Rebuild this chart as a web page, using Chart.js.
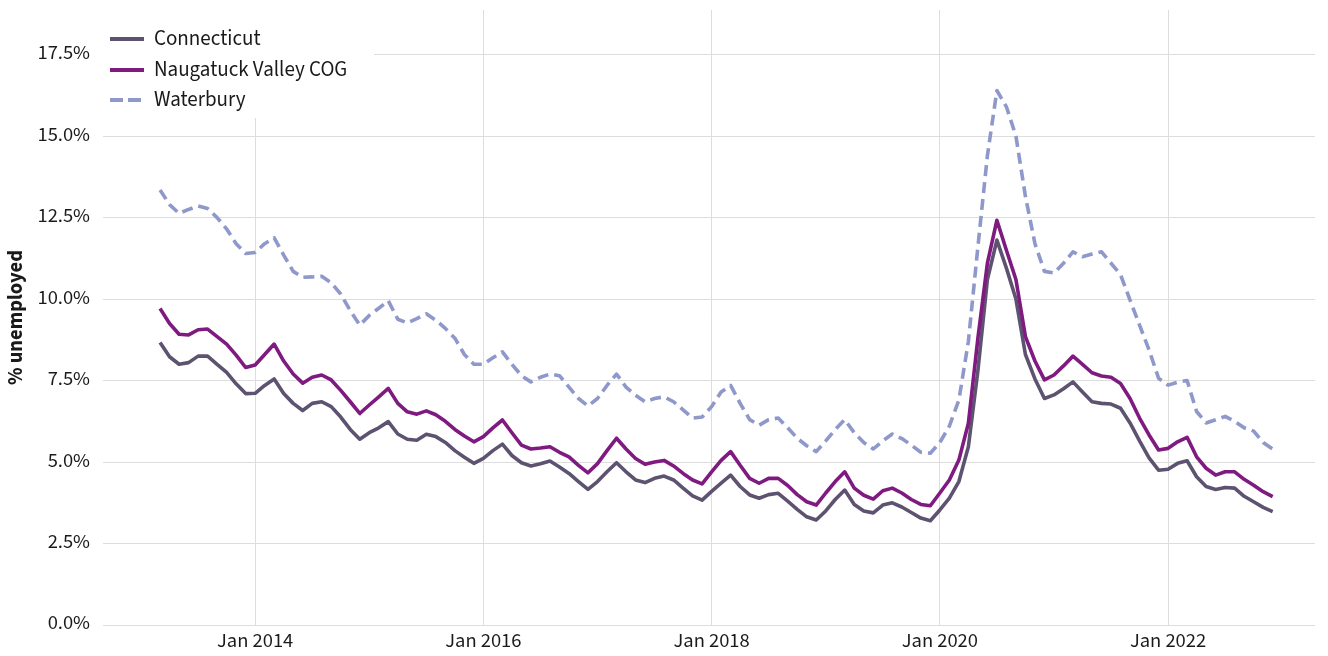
<!DOCTYPE html>
<html>
<head>
<meta charset="utf-8">
<script src="https://cdn.jsdelivr.net/npm/chart.js@4.4.1/dist/chart.umd.min.js"></script>
<style>
  html, body { margin: 0; padding: 0; background: #ffffff; }
  #wrap { width: 1328px; height: 656px; }
</style>
</head>
<body>
<div id="wrap"><canvas id="c" width="1328" height="656"></canvas></div>
<script>
// ---------- DATA ----------
const months = [
  '2013-03','2013-04','2013-05','2013-06','2013-07','2013-08','2013-09','2013-10','2013-11','2013-12',
  '2014-01','2014-02','2014-03','2014-04','2014-05','2014-06','2014-07','2014-08','2014-09','2014-10','2014-11','2014-12',
  '2015-01','2015-02','2015-03','2015-04','2015-05','2015-06','2015-07','2015-08','2015-09','2015-10','2015-11','2015-12',
  '2016-01','2016-02','2016-03','2016-04','2016-05','2016-06','2016-07','2016-08','2016-09','2016-10','2016-11','2016-12',
  '2017-01','2017-02','2017-03','2017-04','2017-05','2017-06','2017-07','2017-08','2017-09','2017-10','2017-11','2017-12',
  '2018-01','2018-02','2018-03','2018-04','2018-05','2018-06','2018-07','2018-08','2018-09','2018-10','2018-11','2018-12',
  '2019-01','2019-02','2019-03','2019-04','2019-05','2019-06','2019-07','2019-08','2019-09','2019-10','2019-11','2019-12',
  '2020-01','2020-02','2020-03','2020-04','2020-05','2020-06','2020-07','2020-08','2020-09','2020-10','2020-11','2020-12',
  '2021-01','2021-02','2021-03','2021-04','2021-05','2021-06','2021-07','2021-08','2021-09','2021-10','2021-11','2021-12',
  '2022-01','2022-02','2022-03','2022-04','2022-05','2022-06','2022-07','2022-08','2022-09','2022-10','2022-11','2022-12'
];

const connecticut = [
  8.67, 8.23, 8.0, 8.05, 8.25, 8.25, 8.0, 7.75, 7.4, 7.1,
  7.11, 7.35, 7.55, 7.1, 6.8, 6.58, 6.8, 6.85, 6.7, 6.38, 6.0, 5.7,
  5.9, 6.05, 6.24, 5.86, 5.7, 5.67, 5.85, 5.78, 5.6, 5.35, 5.15, 4.96,
  5.11, 5.35, 5.55, 5.2, 4.98, 4.88, 4.95, 5.03, 4.85, 4.65, 4.4, 4.16,
  4.4, 4.7, 4.98, 4.7, 4.45, 4.37, 4.5, 4.57, 4.45, 4.2, 3.96, 3.83,
  4.1, 4.35, 4.6, 4.25, 3.99, 3.89, 4.0, 4.04, 3.8, 3.55, 3.32, 3.22,
  3.5, 3.85, 4.14, 3.7, 3.5, 3.44, 3.68, 3.75, 3.62, 3.45, 3.28, 3.2,
  3.53, 3.89, 4.4, 5.47, 7.8, 10.6, 11.81, 10.95, 10.0, 8.3, 7.55, 6.95,
  7.06, 7.25, 7.46, 7.15, 6.85, 6.8, 6.78, 6.65, 6.2, 5.65, 5.13, 4.75,
  4.78, 4.96, 5.04, 4.55, 4.25, 4.16, 4.22, 4.2, 3.95, 3.78, 3.61, 3.48
];

const naugatuckValley = [
  9.71, 9.25, 8.92, 8.9, 9.06, 9.08, 8.85, 8.62, 8.28, 7.9,
  7.98, 8.3, 8.62, 8.1, 7.7, 7.42, 7.6, 7.67, 7.52, 7.2, 6.85, 6.49,
  6.75, 7.0, 7.26, 6.8, 6.54, 6.47, 6.57, 6.45, 6.25, 6.0, 5.8, 5.62,
  5.78, 6.05, 6.29, 5.9, 5.52, 5.4, 5.43, 5.47, 5.3, 5.16, 4.9, 4.67,
  4.95, 5.35, 5.73, 5.4, 5.11, 4.93, 5.0, 5.05, 4.88, 4.65, 4.45, 4.33,
  4.7, 5.05, 5.32, 4.9, 4.5, 4.35, 4.5, 4.5, 4.28, 4.0, 3.78, 3.68,
  4.05, 4.4, 4.7, 4.2, 3.98, 3.86, 4.12, 4.2, 4.05, 3.85, 3.7, 3.66,
  4.05, 4.45, 5.06, 6.19, 8.8, 11.1, 12.42, 11.5, 10.6, 8.85, 8.1, 7.52,
  7.67, 7.95, 8.25, 8.0, 7.74, 7.64, 7.6, 7.41, 6.95, 6.35, 5.83, 5.37,
  5.42, 5.62, 5.76, 5.16, 4.81, 4.6, 4.7, 4.7, 4.47, 4.29, 4.09, 3.94
];

const waterbury = [
  13.35, 12.9, 12.63, 12.75, 12.86, 12.78, 12.5, 12.15, 11.7, 11.4,
  11.43, 11.7, 11.88, 11.35, 10.85, 10.67, 10.68, 10.7, 10.5, 10.15, 9.65, 9.2,
  9.5, 9.72, 9.95, 9.38, 9.27, 9.4, 9.55, 9.35, 9.1, 8.8, 8.3, 8.0,
  8.0, 8.2, 8.38, 8.0, 7.65, 7.46, 7.6, 7.7, 7.65, 7.3, 6.95, 6.72,
  6.95, 7.35, 7.7, 7.3, 7.05, 6.85, 6.95, 7.0, 6.85, 6.6, 6.35, 6.38,
  6.7, 7.15, 7.35, 6.8, 6.3, 6.13, 6.3, 6.35, 6.05, 5.73, 5.5, 5.32,
  5.65, 6.0, 6.3, 5.9, 5.6, 5.4, 5.65, 5.86, 5.72, 5.52, 5.3, 5.27,
  5.6, 6.1, 6.9, 8.7, 11.6, 14.4, 16.4, 15.9, 15.0, 13.15, 11.7, 10.85,
  10.8, 11.1, 11.45, 11.3, 11.38, 11.45, 11.1, 10.75, 9.97, 9.2, 8.44, 7.57,
  7.36, 7.45, 7.5, 6.55, 6.2, 6.3, 6.4, 6.25, 6.05, 5.95, 5.6, 5.4
];

const seriesNames = ['Connecticut', 'Naugatuck Valley COG', 'Waterbury'];
const xTickMonths = ['2014-01', '2016-01', '2018-01', '2020-01', '2022-01'];
const xTickLabels = ['Jan 2014', 'Jan 2016', 'Jan 2018', 'Jan 2020', 'Jan 2022'];
const yTickValues = [0, 2.5, 5, 7.5, 10, 12.5, 15, 17.5];
const yAxisTitle = '% unemployed';

// ---------- helpers ----------
function monthIndex(s) {           // months since Jan 2013
  const [y, m] = s.split('-').map(Number);
  return (y - 2013) * 12 + (m - 1);
}
function toPoints(vals) {
  return vals.map((v, i) => ({ x: monthIndex(months[i]), y: v }));
}

const FONT = "'Source Sans Pro', 'Source Sans 3', 'Open Sans', sans-serif";
const colors = ['#5d5370', '#7e1a80', '#8f98cb'];
const dashes = [[], [], [11, 6]];

const legendPlugin = {
  id: 'boxLegend',
  beforeDatasetsDraw(chart) {
    const ctx = chart.ctx, ca = chart.chartArea;
    ctx.save();
    ctx.fillStyle = '#ffffff';
    ctx.fillRect(ca.left, ca.top, 374 - ca.left, 118 - ca.top);
    const rows = [39, 70, 100];
    chart.data.datasets.forEach((ds, i) => {
      const y = rows[i];
      ctx.beginPath();
      ctx.setLineDash(dashes[i].length ? [13, 5] : []);
      ctx.lineWidth = 4;
      ctx.strokeStyle = ds.borderColor;
      ctx.moveTo(110, y);
      ctx.lineTo(144, y);
      ctx.stroke();
      ctx.setLineDash([]);
      ctx.fillStyle = '#1a1a1a';
      ctx.font = "21px " + FONT;
      ctx.textBaseline = 'middle';
      ctx.textAlign = 'left';
      ctx.fillText(ds.label, 154, y + 1);
    });
    ctx.restore();
  }
};

new Chart(document.getElementById('c'), {
  type: 'line',
  data: {
    datasets: [
      { label: seriesNames[0], data: toPoints(connecticut), borderColor: colors[0], borderDash: dashes[0], order: 3 },
      { label: seriesNames[1], data: toPoints(naugatuckValley), borderColor: colors[1], borderDash: dashes[1], order: 2 },
      { label: seriesNames[2], data: toPoints(waterbury), borderColor: colors[2], borderDash: dashes[2], order: 1 }
    ]
  },
  options: {
    responsive: false,
    animation: false,
    layout: { padding: { top: 10, right: 13, left: 0, bottom: 0 } },
    elements: {
      point: { radius: 0, hoverRadius: 0 },
      line: { borderWidth: 3.6, tension: 0, fill: false, borderJoinStyle: 'round', borderCapStyle: 'butt' }
    },
    plugins: { legend: { display: false }, tooltip: { enabled: false } },
    scales: {
      x: {
        type: 'linear',
        min: -4.0,
        max: 123.45,
        afterBuildTicks: s => { s.ticks = xTickMonths.map(m => ({ value: monthIndex(m) })); },
        afterFit: s => { s.height = 31; s.paddingLeft = 0; s.paddingRight = 0; },
        ticks: {
          autoSkip: false,
          maxRotation: 0,
          padding: 5,
          color: '#1a1a1a',
          font: { family: FONT, size: 20.5 },
          callback: v => { const k = xTickMonths.findIndex(m => monthIndex(m) === v); return k >= 0 ? xTickLabels[k] : ''; }
        },
        grid: { color: '#dddddd', lineWidth: 1, drawTicks: false },
        border: { display: false }
      },
      y: {
        type: 'linear',
        min: 0,
        max: 18.87,
        afterBuildTicks: s => { s.ticks = yTickValues.map(v => ({ value: v })); },
        afterFit: s => { s.width = 103; s.paddingTop = 0; s.paddingBottom = 0; },
        ticks: {
          padding: 13,
          color: '#1a1a1a',
          font: { family: FONT, size: 20.5 },
          callback: v => v.toFixed(1) + '%'
        },
        title: {
          display: true,
          text: yAxisTitle,
          color: '#1a1a1a',
          font: { family: FONT, size: 20.5, weight: 'bold' },
          padding: { top: 5, bottom: 0 }
        },
        grid: { color: '#dddddd', lineWidth: 1, drawTicks: false },
        border: { display: false }
      }
    }
  },
  plugins: [legendPlugin]
});
</script>
</body>
</html>
